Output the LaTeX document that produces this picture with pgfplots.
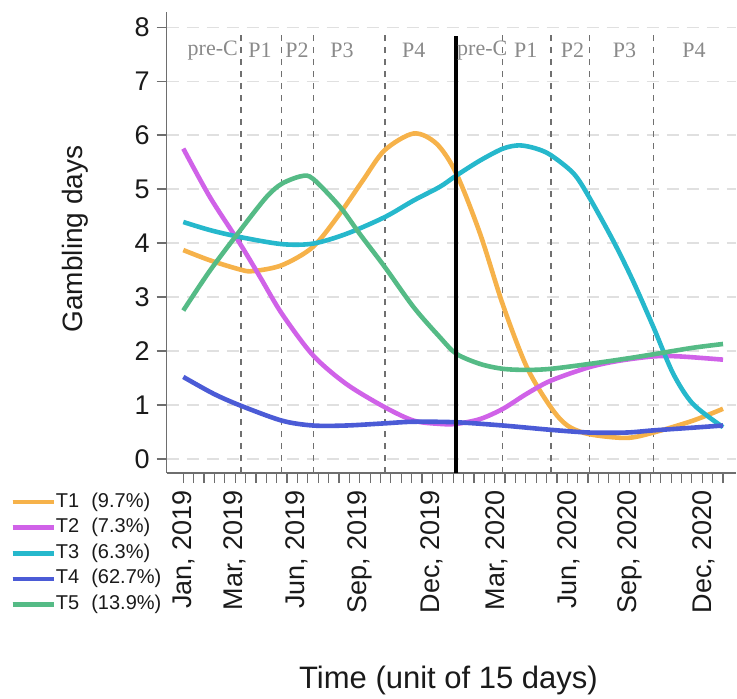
\documentclass[border=0pt]{standalone}
\usepackage{fontspec}
\setmainfont{Liberation Sans}
\newfontfamily\seriff{Liberation Serif}
\usepackage{pgfplots}
\pgfplotsset{compat=1.18}
\definecolor{cA}{HTML}{F6B24A}
\definecolor{cB}{HTML}{D062E8}
\definecolor{cC}{HTML}{26B8CC}
\definecolor{cD}{HTML}{4B5BD6}
\definecolor{cE}{HTML}{55BB86}
\definecolor{axgray}{HTML}{6E6E6E}
\definecolor{gridgray}{HTML}{E0E0E0}
\definecolor{vgray}{HTML}{707070}
\definecolor{lblgray}{HTML}{8A8A8A}
\definecolor{txt}{HTML}{1A1A1A}
\begin{document}
\begin{tikzpicture}
\begin{axis}[
  scale only axis, width=284.65pt, height=230.5pt,
  xmin=-1.6, xmax=53.25, ymin=-0.26, ymax=8.28,
  axis x line=bottom, axis y line=left,
  axis line style={-, draw=axgray, line width=0.75pt},
  tick align=outside, major tick length=5pt,
  tick style={draw=axgray, line width=0.6pt},
  ytick={0,1,...,8},
  xtick={0,1,...,52}, xticklabels={},
  extra x ticks={0,4.98,10.9,17.0,23.9,30.2,37.1,43.0,50.1},
  extra x tick labels={Jan{,} 2019,Mar{,} 2019,Jun{,} 2019,Sep{,} 2019,Dec{,} 2019,Mar{,} 2020,Jun{,} 2020,Sep{,} 2020,Dec{,} 2020},
  extra x tick style={tick style={draw=none}, xticklabel style={rotate=90, anchor=east, font=\fontsize{13.5}{16}\selectfont, text=txt}},
  yticklabel style={font=\fontsize{13.5}{16}\selectfont, text=txt},
  /pgf/number format/assume math mode=true,
  ymajorgrids, y grid style={draw=gridgray, dash pattern=on 6pt off 4pt, line width=0.6pt},
  ylabel={Gambling days},
  ylabel style={at={(axis description cs:-0.1614,0.5076)}, anchor=center, font=\fontsize{14}{17}\selectfont, text=txt},
  xlabel={Time (unit of 15 days)},
  xlabel style={at={(axis description cs:0.495,-0.449)}, anchor=center, font=\fontsize{15.5}{18}\selectfont, text=txt},
  legend style={at={(axis description cs:-0.2753,-0.0345)}, anchor=north west, draw=none, fill=none,
    font=\fontsize{10}{12}\selectfont, text=txt, inner sep=0pt, row sep=0pt,
    nodes={inner xsep=0pt, inner ysep=1.9pt, text height=7pt, text depth=2pt}},
  legend cell align=left,
  legend image code/.code={\draw[#1] (0pt,0pt) -- (11.5pt,0pt); \path (0pt,0pt) -- (20.5pt,0pt);},
  clip=false,
]
% period separators
\addplot[forget plot, vgray, line width=0.6pt, dash pattern=on 3pt off 3pt] coordinates {(5.56,-0.26) (5.56,7.85)};
\addplot[forget plot, vgray, line width=0.6pt, dash pattern=on 3pt off 3pt] coordinates {(9.48,-0.26) (9.48,7.85)};
\addplot[forget plot, vgray, line width=0.6pt, dash pattern=on 3pt off 3pt] coordinates {(12.52,-0.26) (12.52,7.85)};
\addplot[forget plot, vgray, line width=0.6pt, dash pattern=on 3pt off 3pt] coordinates {(19.43,-0.26) (19.43,7.85)};
\addplot[forget plot, vgray, line width=0.6pt, dash pattern=on 3pt off 3pt] coordinates {(30.77,-0.26) (30.77,7.85)};
\addplot[forget plot, vgray, line width=0.6pt, dash pattern=on 3pt off 3pt] coordinates {(35.42,-0.26) (35.42,7.85)};
\addplot[forget plot, vgray, line width=0.6pt, dash pattern=on 3pt off 3pt] coordinates {(39.11,-0.26) (39.11,7.85)};
\addplot[forget plot, vgray, line width=0.6pt, dash pattern=on 3pt off 3pt] coordinates {(45.28,-0.26) (45.28,7.85)};
% series
\addplot[cA, line width=2.3pt, smooth] coordinates {(0,3.87) (2.57,3.68) (5.46,3.51) (6.7,3.48) (9.5,3.59) (12.5,3.93) (15.1,4.55) (17.3,5.16) (19.4,5.72) (22.2,6.03) (24.4,5.84) (26.3,5.29) (28.6,4.17) (30.8,2.85) (33.1,1.70) (35.4,0.96) (37,0.62) (39.1,0.46) (42.7,0.39) (45.3,0.49) (49.1,0.71) (52,0.93)};
\addlegendentry{T1\hspace{6pt}(9.7\%)}
\addplot[cB, line width=2.3pt, smooth] coordinates {(0,5.75) (2.57,4.85) (5.46,3.99) (7.4,3.37) (9.5,2.69) (12.5,1.92) (15.7,1.39) (19.4,0.96) (22.2,0.71) (24.7,0.65) (26.3,0.65) (28.6,0.74) (30.8,0.93) (33.1,1.21) (35.4,1.45) (39.1,1.70) (42,1.82) (45.3,1.90) (47.8,1.90) (52,1.84)};
\addlegendentry{T2\hspace{6pt}(7.3\%)}
\addplot[cC, line width=2.3pt, smooth] coordinates {(0,4.39) (2.57,4.24) (5.5,4.11) (9.5,3.98) (12.5,3.99) (15.7,4.17) (19.4,4.48) (22.2,4.79) (24.7,5.04) (26.3,5.25) (28.6,5.53) (30.8,5.75) (32.4,5.81) (34,5.75) (35.4,5.63) (37.6,5.29) (39.1,4.85) (41.4,4.05) (43.3,3.31) (45.3,2.44) (47.2,1.58) (49.1,1.02) (52,0.59)};
\addlegendentry{T3\hspace{6pt}(6.3\%)}
\addplot[cD, line width=2.3pt, smooth] coordinates {(0,1.52) (2.9,1.21) (5.5,0.99) (9.5,0.71) (12.5,0.62) (15.7,0.62) (19.4,0.66) (22.2,0.69) (26.3,0.68) (30.8,0.62) (35.4,0.54) (39.1,0.49) (42.7,0.49) (45.3,0.53) (49.1,0.58) (52,0.62)};
\addlegendentry{T4\hspace{6pt}(62.7\%)}
\addplot[cE, line width=2.3pt, smooth] coordinates {(0,2.75) (2.57,3.49) (5.5,4.24) (8,4.85) (9.5,5.10) (11.4,5.24) (12.5,5.19) (15.1,4.67) (17,4.17) (19.4,3.56) (22.2,2.81) (24.7,2.26) (26.3,1.95) (28.6,1.76) (30.8,1.67) (33.1,1.65) (35.4,1.67) (39.1,1.76) (42.7,1.86) (45.3,1.94) (49.1,2.06) (52,2.13)};
\addlegendentry{T5\hspace{6pt}(13.9\%)}
% COVID onset line
\addplot[forget plot, black, line width=2pt] coordinates {(26.3,-0.26) (26.3,7.83)};
% period labels
\begin{scope}[every node/.style={font=\seriff\fontsize{11}{13}\selectfont, text=lblgray, inner sep=0pt}]
\node at (axis cs:2.84,7.57) {pre-C};
\node at (axis cs:7.39,7.57) {P1};
\node at (axis cs:10.95,7.57) {P2};
\node at (axis cs:15.3,7.57) {P3};
\node at (axis cs:22.2,7.57) {P4};
\node at (axis cs:28.8,7.57) {pre-C};
\node at (axis cs:33.0,7.57) {P1};
\node at (axis cs:37.5,7.57) {P2};
\node at (axis cs:42.5,7.57) {P3};
\node at (axis cs:49.2,7.57) {P4};
\end{scope}
\end{axis}
\pgfresetboundingbox
\path[use as bounding box] (-83.35pt,-112.5pt) rectangle (285.15pt,236.5pt);
\end{tikzpicture}
\end{document}
